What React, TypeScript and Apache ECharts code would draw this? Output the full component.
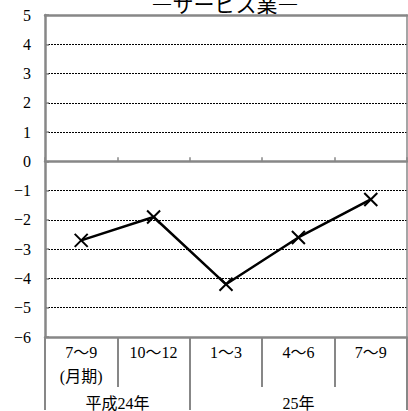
import { useEffect, useRef } from 'react';
import * as echarts from 'echarts';

const titleText = '―サービス業―';
const categories = ['7～9\n(月期)', '10～12', '1～3', '4～6', '7～9'];
const values = [-2.7, -1.9, -4.2, -2.6, -1.3];
const yearLabels = ['平成24年', '25年'];
const yearLabelPos = [1, 3.5];
const yearBoundaries = [0, 2, 5];
const yMin = -6;
const yMax = 5;

const GRAY = '#878787';
const SERIF = "'Liberation Serif', 'Noto Sans CJK JP', serif";
const SANS = "'Noto Sans CJK JP', 'Noto Sans', sans-serif";

export default function App() {
  const ref = useRef<HTMLDivElement>(null);
  useEffect(() => {
    if (!ref.current) return;
    const chart = echarts.init(ref.current, undefined, { renderer: 'svg' });
    chart.setOption({
      animation: false,
      backgroundColor: '#fff',
      textStyle: { fontFamily: SERIF },
      graphic: [
        {
          type: 'text',
          x: 225,
          y: 3,
          style: {
            text: titleText,
            align: 'center',
            verticalAlign: 'middle',
            fontFamily: SANS,
            fontSize: 21,
            fill: '#000',
          },
        },
      ],
      grid: { left: 45, right: 1, top: 15, bottom: 73 },
      yAxis: [
        {
          type: 'value',
          min: yMin,
          max: yMax,
          interval: 1,
          axisLine: { show: true, lineStyle: { color: GRAY, width: 2.5 } },
          axisTick: { show: true, inside: true, length: 4, lineStyle: { color: GRAY, width: 1.5 } },
          axisLabel: {
            margin: 14,
            fontFamily: SERIF,
            fontSize: 16,
            color: '#000',
            formatter: (v: number) => String(v).replace('-', '−'),
          },
          splitLine: { show: true, lineStyle: { color: '#000', type: [2, 1], width: 1 } },
        },
        {
          type: 'value',
          min: yMin,
          max: yMax,
          interval: 1,
          position: 'right',
          axisLine: { show: true, onZero: false, lineStyle: { color: GRAY, width: 1.5 } },
          axisTick: { show: false },
          axisLabel: { show: false },
          splitLine: { show: false },
        },
      ],
      xAxis: [
        {
          type: 'category',
          data: categories,
          position: 'bottom',
          axisLine: { show: true, onZero: true, lineStyle: { color: GRAY, width: 2.5 } },
          axisTick: { show: true, inside: true, length: 4, lineStyle: { color: GRAY, width: 1.5 } },
          axisLabel: { show: false },
          splitLine: { show: false },
        },
        {
          type: 'category',
          data: categories,
          position: 'bottom',
          axisLine: { show: true, onZero: false, lineStyle: { color: GRAY, width: 2.5 } },
          axisTick: { show: true, length: 50, lineStyle: { color: GRAY, width: 2 } },
          axisLabel: {
            margin: 3,
            fontFamily: SERIF,
            fontSize: 16,
            lineHeight: 24,
            color: '#000',
            verticalAlign: 'top',
          },
          splitLine: { show: false },
        },
        {
          type: 'value',
          min: 0,
          max: 5,
          position: 'bottom',
          offset: 50,
          axisLine: { show: false, onZero: false },
          axisTick: { show: true, customValues: yearBoundaries, length: 23, lineStyle: { color: GRAY, width: 2 } },
          axisLabel: {
            customValues: yearLabelPos,
            margin: 8,
            fontFamily: SERIF,
            fontSize: 16,
            color: '#000',
            formatter: (v: number) => yearLabels[yearLabelPos.indexOf(v)] ?? '',
          },
          splitLine: { show: false },
        },
        {
          type: 'category',
          data: categories,
          position: 'top',
          axisLine: { show: true, onZero: false, lineStyle: { color: GRAY, width: 2.5 } },
          axisTick: { show: false },
          axisLabel: { show: false },
          splitLine: { show: false },
        },
      ],
      series: [
        {
          type: 'line',
          xAxisIndex: 0,
          yAxisIndex: 0,
          data: values,
          symbol: 'path://M0,0L10,10M10,0L0,10',
          symbolSize: 13,
          itemStyle: { color: '#000', borderColor: '#000', borderWidth: 2 },
          lineStyle: { color: '#000', width: 2.5 },
          z: 5,
        },
      ],
    });
    return () => chart.dispose();
  }, []);
  return <div ref={ref} style={{ width: 408, height: 411, position: 'absolute', left: 0, top: 0 }} />;
}
